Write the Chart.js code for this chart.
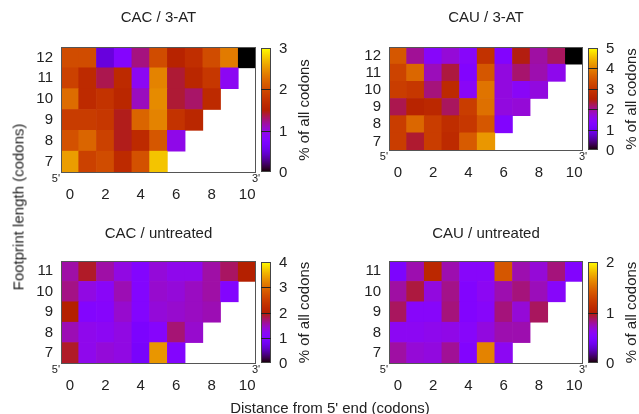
<!DOCTYPE html>
<html lang="en">
<head>
<meta charset="utf-8">
<title>Footprint heatmaps</title>
<script src="https://cdn.jsdelivr.net/npm/chart.js@4.4.0/dist/chart.umd.min.js"></script>
<style>
  body { margin: 0; background: #fff; }
  #wrap { position: relative; width: 639px; height: 414px; overflow: hidden;
          font-family: "Liberation Sans Narrow", "Liberation Sans", Arial, sans-serif; color: #222; }
  #wrap canvas { position: absolute; }
  .lbl { position: absolute; font-size: 15px; white-space: nowrap; }
</style>
</head>
<body>
<div id="wrap">
  <canvas id="c1" width="320" height="205" style="left:0;top:0"></canvas>
  <canvas id="c2" width="319" height="205" style="left:320px;top:0"></canvas>
  <canvas id="c3" width="320" height="190" style="left:0;top:215px"></canvas>
  <canvas id="c4" width="319" height="190" style="left:320px;top:215px"></canvas>
  <div class="lbl" id="ylab" style="left:18px;top:207px;transform:translate(-50%,-50%) rotate(-90deg);">Footprint length (codons)</div>
  <div class="lbl" id="xlab" style="left:330px;top:407px;transform:translate(-50%,-50%);">Distance from 5' end (codons)</div>
</div>
<script>
var FONT = '"Liberation Sans Narrow", "Liberation Sans", Arial, sans-serif';

var positions = ['0', '1', '2', '3', '4', '5', '6', '7', '8', '9', '10'];
var lengths3AT = [7, 8, 9, 10, 11, 12];
var lengthsUntr = [7, 8, 9, 10, 11];

// % of all codons; first row = footprint 7, cells go from the 5' end
var cac3AT = [
  [2.55, 1.9, 2.0, 1.65, 2.05, 2.75],
  [2.05, 2.2, 1.9, 1.45, 1.65, 2.1, 0.95],
  [1.85, 1.85, 1.8, 1.45, 2.2, 2.4, 1.75, 1.6],
  [2.25, 1.65, 1.75, 1.6, 1.1, 2.45, 1.4, 1.3, 1.65],
  [1.9, 1.65, 1.35, 1.65, 0.9, 2.4, 1.4, 1.6, 1.8, 0.9],
  [2.0, 2.0, 0.5, 0.8, 1.25, 2.0, 1.55, 1.7, 2.0, 2.35, 0.0]
];
var cau3AT = [
  [3.1, 2.35, 3.1, 2.75, 3.55, 4.2],
  [3.1, 3.7, 3.1, 2.8, 3.0, 3.5, 1.3],
  [2.25, 2.6, 2.7, 2.2, 3.1, 3.8, 1.65, 1.7],
  [3.1, 3.0, 2.1, 2.75, 1.45, 3.85, 1.65, 1.45, 1.65],
  [3.2, 3.7, 1.85, 2.3, 1.3, 3.5, 1.65, 2.15, 1.9, 1.55],
  [3.5, 2.0, 1.4, 1.7, 1.4, 2.9, 1.3, 2.45, 1.95, 2.2, 0.0]
];
var cacUntr = [
  [1.9, 1.25, 1.35, 1.3, 0.9, 3.35, 1.05],
  [1.5, 1.25, 1.2, 1.3, 0.95, 1.1, 1.7, 1.4],
  [2.0, 1.05, 1.1, 1.4, 1.05, 1.35, 1.4, 1.45, 1.5],
  [1.65, 1.3, 1.15, 1.5, 1.05, 1.4, 1.35, 1.45, 1.55, 1.05],
  [1.55, 1.9, 1.55, 1.3, 1.05, 1.35, 1.25, 1.25, 1.55, 1.75, 2.0]
];
var cauUntr = [
  [0.78, 0.68, 0.66, 0.8, 0.52, 1.6, 0.6],
  [0.6, 0.6, 0.62, 0.64, 0.56, 0.66, 0.76, 0.76],
  [0.88, 0.56, 0.56, 0.84, 0.52, 0.56, 0.84, 0.68, 0.88],
  [0.78, 0.92, 0.66, 0.82, 0.52, 0.6, 0.76, 0.84, 0.74, 0.56],
  [0.48, 0.76, 1.08, 0.76, 0.56, 0.56, 1.4, 0.76, 0.68, 0.84, 0.52]
];

// gnuplot default palette (rgbformulae 7,5,15)
function palette(t) {
  t = Math.max(0, Math.min(1, t));
  var r = Math.sqrt(t), g = t * t * t, b = Math.max(0, Math.sin(2 * Math.PI * t));
  return 'rgb(' + Math.round(r * 255) + ',' + Math.round(g * 255) + ',' + Math.round(b * 255) + ')';
}

function makePanel(id, title, lengths, values, vmax, box) {
  // box: chart area inside the canvas
  var cv = document.getElementById(id);
  var W = cv.width, H = cv.height;

  var datasets = lengths.map(function (L, r) {
    var row = values[r];
    return {
      data: row.map(function () { return [L - 0.5, L + 0.5]; }),
      backgroundColor: function (ctx) { return palette(row[ctx.dataIndex] / vmax); },
      borderWidth: 0
    };
  });

  var decor = {
    id: 'decor',
    afterDraw: function (chart) {
      var c = chart.ctx, a = chart.chartArea;
      c.save();
      // frame
      c.strokeStyle = '#555';
      c.lineWidth = 1;
      c.strokeRect(Math.round(a.left) + 0.5, Math.round(a.top) + 0.5,
                   Math.round(a.right - a.left) - 1, Math.round(a.bottom - a.top));
      // title
      c.fillStyle = '#222';
      c.textAlign = 'center';
      c.textBaseline = 'middle';
      c.font = '15px ' + FONT;
      c.fillText(title, (a.left + a.right) / 2, box.titleY);
      // 5' / 3' marks
      c.font = '11px ' + FONT;
      c.textBaseline = 'top';
      c.textAlign = 'right';
      c.fillText("5'", a.left - 1, a.bottom + 1);
      c.textAlign = 'left';
      c.fillText("3'", a.right - 4, a.bottom + 1);
      // colour bar
      var x0 = a.right + 5, cw = 10, top = a.top + 1, bot = a.bottom;
      for (var y = top; y < bot; y++) {
        c.fillStyle = palette((bot - y - 0.5) / (bot - top));
        c.fillRect(x0, y, cw, 1);
      }
      c.strokeStyle = '#444';
      c.strokeRect(x0 + 0.5, top + 0.5, cw - 1, bot - top - 1);
      c.font = '15px ' + FONT;
      c.textAlign = 'left';
      c.textBaseline = 'middle';
      c.fillStyle = '#222';
      for (var v = 0; v <= vmax; v++) {
        var py = Math.round(bot - (bot - top) * v / vmax) + 0.5;
        if (v > 0 && v < vmax) {
          c.strokeStyle = '#222';
          c.beginPath(); c.moveTo(x0, py); c.lineTo(x0 + cw, py); c.stroke();
        }
        c.fillText(String(v), x0 + cw + 8, py);
      }
      c.translate(x0 + cw + 34, (top + bot) / 2);
      c.rotate(-Math.PI / 2);
      c.textAlign = 'center';
      c.fillText('% of all codons', 0, 0);
      c.restore();
    }
  };

  return new Chart(cv, {
    type: 'bar',
    data: { labels: positions, datasets: datasets },
    options: {
      responsive: false,
      animation: false,
      events: [],
      grouped: false,
      categoryPercentage: 1,
      barPercentage: 1,
      layout: { padding: { left: 0, top: box.top, right: W - box.right, bottom: 0 } },
      plugins: { legend: { display: false }, tooltip: { enabled: false }, title: { display: false } },
      scales: {
        x: {
          type: 'category',
          grid: { display: false, drawTicks: false },
          border: { display: false },
          ticks: {
            autoSkip: false, maxRotation: 0, padding: box.xpad,
            color: '#222', font: { family: FONT, size: 15 },
            callback: function (v, i) { return i % 2 === 0 ? positions[i] : ''; }
          },
          afterFit: function (s) { s.height = H - box.bottom; }
        },
        y: {
          type: 'linear',
          min: lengths[0] - 0.5,
          max: lengths[lengths.length - 1] + 0.5,
          grid: { display: false, drawTicks: false },
          border: { display: false },
          afterBuildTicks: function (s) { s.ticks = lengths.map(function (L) { return { value: L }; }); },
          ticks: { autoSkip: false, padding: 8, color: '#222', font: { family: FONT, size: 15 } },
          afterFit: function (s) { s.width = box.left; }
        }
      }
    },
    plugins: [decor]
  });
}

makePanel('c1', 'CAC / 3-AT', lengths3AT, cac3AT, 3,
  { left: 61, top: 47, right: 256, bottom: 172, titleY: 18, xpad: 14 });
makePanel('c2', 'CAU / 3-AT', lengths3AT, cau3AT, 5,
  { left: 69, top: 47, right: 263, bottom: 150, titleY: 18, xpad: 14 });
makePanel('c3', 'CAC / untreated', lengthsUntr, cacUntr, 4,
  { left: 61, top: 46, right: 256, bottom: 148, titleY: 19, xpad: 14 });
makePanel('c4', 'CAU / untreated', lengthsUntr, cauUntr, 2,
  { left: 69, top: 46, right: 263, bottom: 148, titleY: 19, xpad: 14 });
</script>
</body>
</html>
